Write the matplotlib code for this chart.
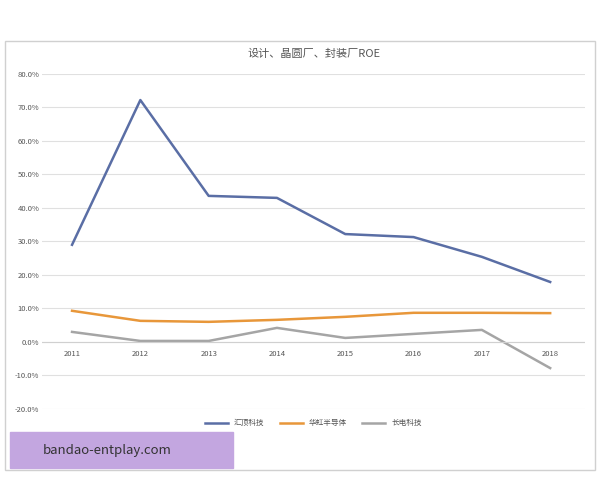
import matplotlib
matplotlib.use("Agg")
import matplotlib.pyplot as plt
from matplotlib.patches import Rectangle

plt.rcParams['font.family'] = ['Noto Sans CJK SC', 'DejaVu Sans']

years = ["2011", "2012", "2013", "2014", "2015", "2016", "2017", "2018"]
huiding = [29.0, 72.2, 43.6, 43.0, 32.2, 31.3, 25.4, 17.9]
huahong = [9.3, 6.3, 6.0, 6.6, 7.5, 8.7, 8.7, 8.6]
changdian = [3.0, 0.3, 0.3, 4.2, 1.2, 2.4, 3.6, -7.8]
series_names = ["汇顶科技", "华虹半导体", "长电科技"]
yticks = [-20, -10, 0, 10, 20, 30, 40, 50, 60, 70, 80]

fig = plt.figure(figsize=(6, 4.8), dpi=100)
fig.patches.append(Rectangle((0.008, 0.02), 0.984, 0.895, transform=fig.transFigure,
                             fill=False, edgecolor="#d0d0d0", lw=1))
ax = fig.add_axes([0.07, 0.148, 0.905, 0.698])
x = range(len(years))
ax.plot(x, huiding, color="#5a6ea5", lw=1.8, label=series_names[0])
ax.plot(x, huahong, color="#e8973a", lw=1.8, label=series_names[1])
ax.plot(x, changdian, color="#a5a5a5", lw=1.8, label=series_names[2])
ax.set_ylim(-20, 80)
ax.set_xlim(-0.44, 7.51)
ax.set_yticks(yticks)
ax.set_yticklabels([f"{v:.1f}%" for v in yticks], fontsize=5.5, color="#555555")
ax.set_xticks(list(x))
ax.set_xticklabels(years, fontsize=5.5, color="#555555")
ax.tick_params(length=0, pad=2)
ax.grid(axis="y", color="#e0e0e0", lw=0.8)
ax.axhline(0, color="#d0d0d0", lw=0.8)
ax.set_axisbelow(True)
for s in ax.spines.values():
    s.set_visible(False)
for lbl in ax.get_xticklabels():
    lbl.set_y(0.185)
ax.set_title("设计、晶圆厂、封装厂ROE", fontsize=8, color="#555555", pad=12)
ax.legend(loc="upper center", bbox_to_anchor=(0.5, -0.01), ncol=3, frameon=False,
          fontsize=5.5, handlelength=3, labelcolor="#555555")
fig.patches.append(Rectangle((0.017, 0.025), 0.372, 0.075, transform=fig.transFigure,
                             color="#c3a6e0", zorder=5))
fig.text(0.072, 0.062, "bandao-entplay.com", fontsize=9.5, color="#333333",
         ha="left", va="center", zorder=6)
fig.savefig("out.png")
